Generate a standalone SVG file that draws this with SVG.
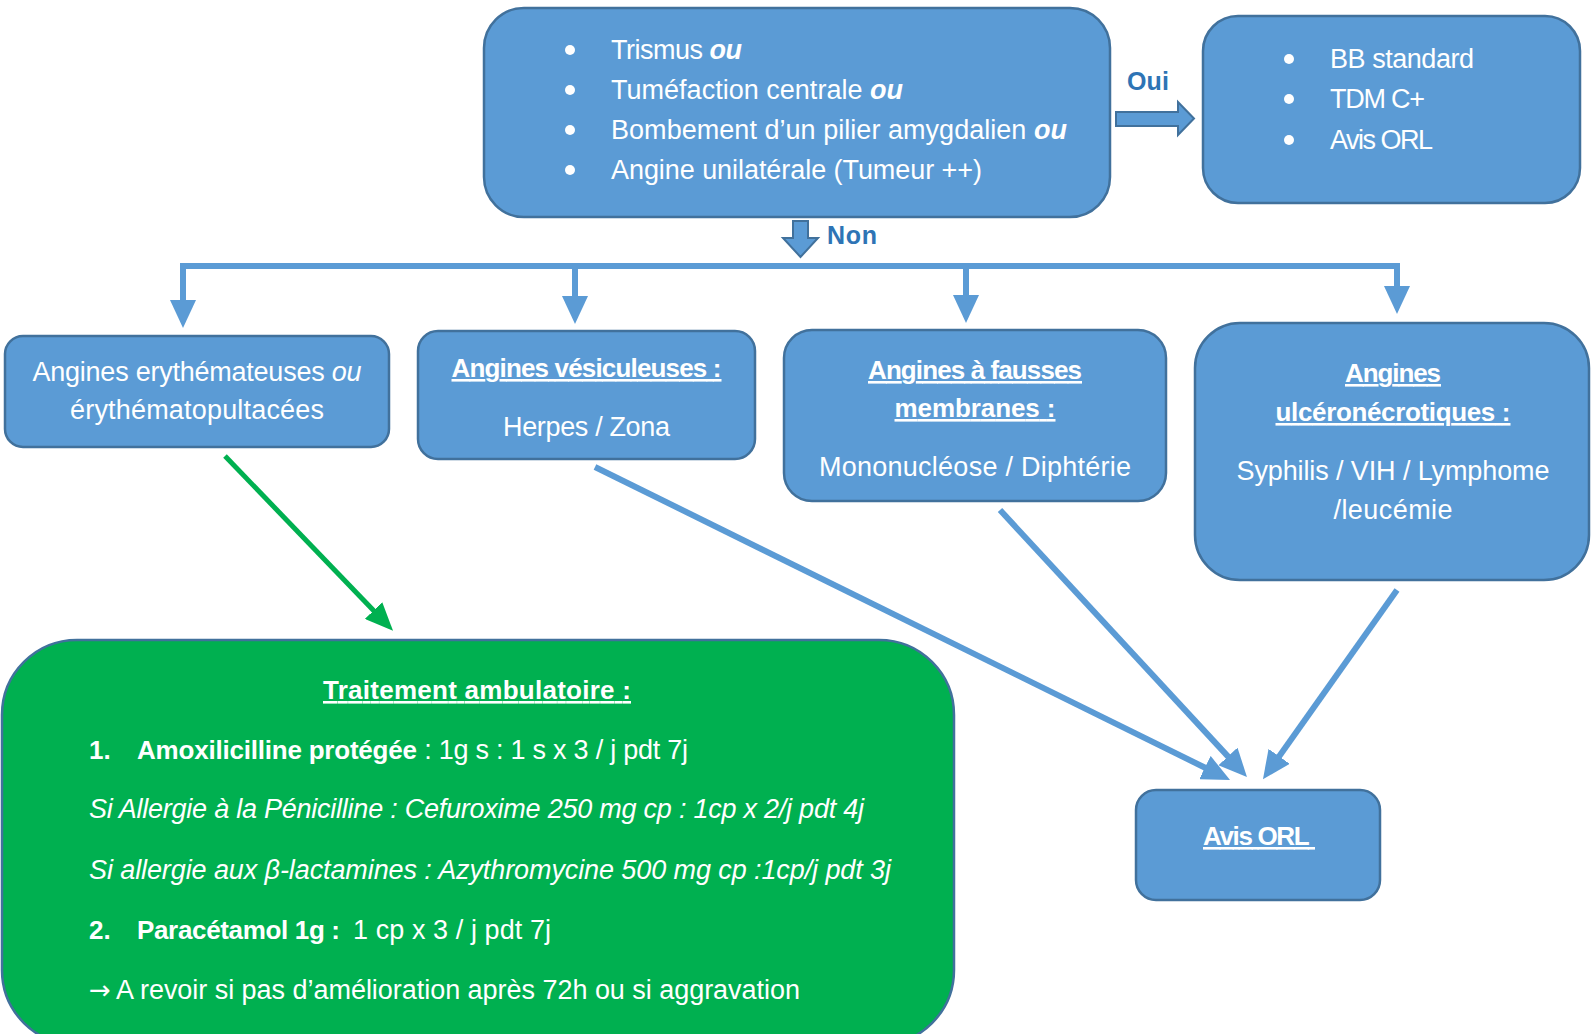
<svg xmlns="http://www.w3.org/2000/svg" width="1591" height="1034" viewBox="0 0 1591 1034">
<defs>
<style>
.box{fill:#5B9BD5;stroke:#41719C;stroke-width:2.5}
.green{fill:#00B050;stroke:#41719C;stroke-width:2.5}
.t{font-family:"Liberation Sans",Arial,sans-serif;font-size:27px;fill:#ffffff}
.b{font-weight:bold;font-size:26px}
.i{font-style:italic}
.u{text-decoration:underline}
.lbl{font-family:"Liberation Sans",Arial,sans-serif;font-size:25px;font-weight:bold;fill:#2E74B5}
.c{text-anchor:middle}
.con{fill:none;stroke:#5B9BD5;stroke-width:6}
.cong{fill:none;stroke:#00B050;stroke-width:5}
.blk{fill:#5B9BD5;stroke:#41719C;stroke-width:2}
</style>
<marker id="ab" markerUnits="userSpaceOnUse" markerWidth="28" markerHeight="26" refX="2" refY="13" orient="auto" viewBox="0 0 28 26">
<path d="M0,0 L28,13 L0,26 Z" fill="#5B9BD5"/>
</marker>
<marker id="ag" markerUnits="userSpaceOnUse" markerWidth="28" markerHeight="24" refX="2" refY="12" orient="auto" viewBox="0 0 28 24">
<path d="M0,0 L28,12 L0,24 Z" fill="#00B050"/>
</marker>
</defs>

<g id="connectors">
<path class="blk" d="M1116,112 H1178 V102 L1194,118.5 L1178,135 V126 H1116 Z"/>
<path class="blk" d="M793,221 H808 V238 H818 L800.5,257 L783,238 H793 Z"/>
<path class="con" d="M183,302 V266 H1397 V288"/>
<path class="con" d="M575,266 V298" marker-end="url(#ab)"/>
<path class="con" d="M966,266 V297" marker-end="url(#ab)"/>
<path class="con" d="M1397,286 V288" marker-end="url(#ab)"/>
<path class="con" d="M183,298 V302" marker-end="url(#ab)"/>
<path class="cong" d="M225,456 L375,612" marker-end="url(#ag)"/>
<path class="con" d="M595,467 L1206.7,768.5" marker-end="url(#ab)"/>
<path class="con" d="M1000,510 L1229.3,757.9" marker-end="url(#ab)"/>
<path class="con" d="M1397,590 L1278,758" marker-end="url(#ab)"/>
<text class="lbl" x="1127" y="90" textLength="42">Oui</text>
<text class="lbl" x="827" y="244" textLength="50">Non</text>
</g>

<g id="node-criteres">
<rect class="box" x="484" y="8" width="626" height="209" rx="40"/>
<circle cx="570" cy="50" r="5" fill="#fff"/>
<circle cx="570" cy="90" r="5" fill="#fff"/>
<circle cx="570" cy="130" r="5" fill="#fff"/>
<circle cx="570" cy="170" r="5" fill="#fff"/>
<text class="t" x="611" y="59" textLength="131">Trismus <tspan font-weight="bold" font-style="italic">ou</tspan></text>
<text class="t" x="611" y="99" textLength="292">Tuméfaction centrale <tspan font-weight="bold" font-style="italic">ou</tspan></text>
<text class="t" x="611" y="139" textLength="456">Bombement d’un pilier amygdalien <tspan font-weight="bold" font-style="italic">ou</tspan></text>
<text class="t" x="611" y="179" textLength="371">Angine unilatérale (Tumeur ++)</text>
</g>

<g id="node-oui">
<rect class="box" x="1203" y="16" width="377" height="187" rx="35"/>
<circle cx="1289" cy="59" r="5" fill="#fff"/>
<circle cx="1289" cy="99" r="5" fill="#fff"/>
<circle cx="1289" cy="140" r="5" fill="#fff"/>
<text class="t" x="1330" y="68" textLength="144">BB standard</text>
<text class="t" x="1330" y="108" textLength="95">TDM C+</text>
<text class="t" x="1330" y="149" textLength="103">Avis ORL</text>
</g>

<g id="node-erythemateuses">
<rect class="box" x="5" y="336" width="384" height="111" rx="18"/>
<text class="t c" x="197" y="381" textLength="329">Angines erythémateuses <tspan font-style="italic">ou</tspan></text>
<text class="t c" x="197" y="419" textLength="254">érythématopultacées</text>
</g>

<g id="node-vesiculeuses">
<rect class="box" x="418" y="331" width="337" height="128" rx="20"/>
<text class="t b u c" x="586.5" y="377" textLength="270">Angines vésiculeuses :</text>
<text class="t c" x="586.5" y="436" textLength="167">Herpes / Zona</text>
</g>

<g id="node-fausses-membranes">
<rect class="box" x="784" y="330" width="382" height="171" rx="28"/>
<text class="t b u c" x="975" y="379" textLength="214">Angines à fausses</text>
<text class="t b u c" x="975" y="417" textLength="161">membranes :</text>
<text class="t c" x="975" y="476" textLength="312">Mononucléose / Diphtérie</text>
</g>

<g id="node-ulceronecrotiques">
<rect class="box" x="1195" y="323" width="394" height="257" rx="45"/>
<text class="t b u c" x="1393" y="382" textLength="96">Angines</text>
<text class="t b u c" x="1393" y="421" textLength="235">ulcéronécrotiques :</text>
<text class="t c" x="1393" y="480" textLength="313">Syphilis / VIH / Lymphome</text>
<text class="t c" x="1393" y="519" textLength="119">/leucémie</text>
</g>

<g id="node-avis-orl">
<rect class="box" x="1136" y="790" width="244" height="110" rx="20"/>
<text class="t b u" x="1203" y="845" textLength="112" xml:space="preserve">Avis ORL </text>
</g>

<g id="node-traitement">
<rect class="green" x="2" y="640" width="952" height="405" rx="75"/>
<text class="t b u c" x="477" y="699" textLength="308">Traitement ambulatoire :</text>
<text class="t b" x="89" y="759">1.</text>
<text class="t b" x="137" y="759" textLength="280">Amoxilicilline protégée</text>
<text class="t" x="417" y="759" textLength="271" xml:space="preserve"> : 1g s : 1 s x 3 / j pdt 7j</text>
<text class="t i" x="89" y="818" textLength="775">Si Allergie à la Pénicilline : Cefuroxime 250 mg cp : 1cp x 2/j pdt 4j</text>
<text class="t i" x="89" y="879" textLength="802">Si allergie aux β-lactamines : Azythromycine 500 mg cp :1cp/j pdt 3j</text>
<text class="t b" x="137" y="939" textLength="203">Paracétamol 1g :</text>
<text class="t b" x="89" y="939">2.</text>
<text class="t" x="353" y="939" textLength="198">1 cp x 3 / j pdt 7j</text>
<text class="t" x="89" y="999"><tspan font-family="'DejaVu Sans',sans-serif" font-size="26">→</tspan><tspan x="116" textLength="684">A revoir si pas d’amélioration après 72h ou si aggravation</tspan></text>
</g>
</svg>
